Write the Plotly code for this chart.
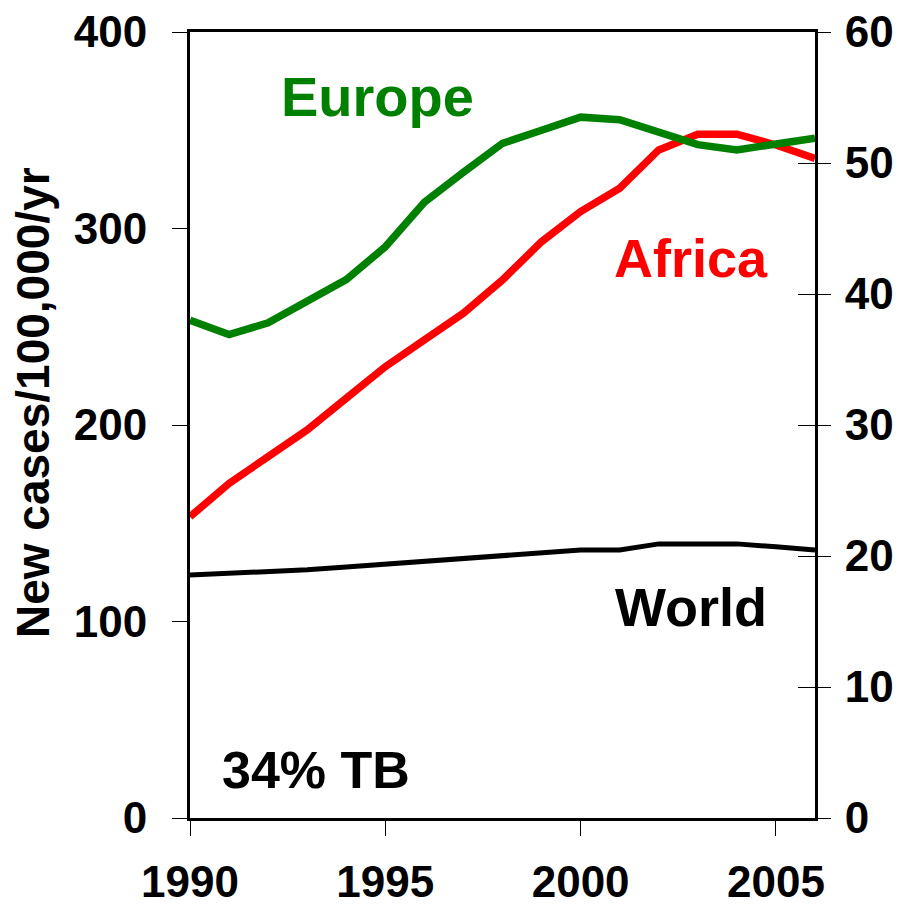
import plotly.graph_objects as go

years = list(range(1990, 2007))
africa = [153.3, 170.3, 183.9, 197.5, 213.6, 229.7, 243.3, 256.9, 273.8, 293.3,
          308.6, 320.5, 340.0, 348.0, 348.0, 342.5, 335.7]
world = [123.7, 124.6, 124.9, 126.3, 127.7, 129.1, 130.5, 132.0, 133.4, 134.9,
         136.4, 136.4, 139.5, 139.5, 139.5, 138.0, 136.4]
europe = [38.0, 36.9, 37.8, 39.4, 41.1, 43.6, 47.0, 49.3, 51.5, 52.5,
          53.5, 53.3, 52.4, 51.4, 51.0, 51.4, 51.9]

x_ticks = [1990, 1995, 2000, 2005]
left_ticks = [0, 100, 200, 300, 400]
right_ticks = [0, 10, 20, 30, 40, 50, 60]

FONT = "Liberation Sans, Arial, sans-serif"

fig = go.Figure()
fig.add_trace(go.Scatter(x=years, y=world, mode="lines", name="World",
                         line=dict(color="black", width=5), yaxis="y"))
fig.add_trace(go.Scatter(x=years, y=africa, mode="lines", name="Africa",
                         line=dict(color="#FF0000", width=7.5), yaxis="y"))
fig.add_trace(go.Scatter(x=years, y=europe, mode="lines", name="Europe",
                         line=dict(color="#008000", width=7.5), yaxis="y2"))
# helper trace so the crossing tick axis is drawn
fig.add_trace(go.Scatter(x=[years[0]], y=[europe[0]], mode="lines", yaxis="y3",
                         showlegend=False, hoverinfo="skip",
                         line=dict(color="rgba(0,0,0,0)")))

tickfont = dict(family=FONT, size=44, color="black", weight="bold")

fig.update_layout(
    width=897, height=897, autosize=False,
    margin=dict(l=182, r=90, t=24, b=87),
    paper_bgcolor="white", plot_bgcolor="white",
    showlegend=False,
    xaxis=dict(range=[1990, 2006], tickvals=x_ticks, ticks="outside", ticklen=15,
               tickwidth=1, tickcolor="black", showline=True, linewidth=3,
               linecolor="black", mirror=True, showgrid=False, zeroline=False,
               tickfont=tickfont, ticklabelstandoff=8, automargin=False,
               ticklabeloverflow="allow"),
    yaxis=dict(range=[0, 400], tickvals=left_ticks, ticks="outside", ticklen=15,
               tickwidth=1, tickcolor="black", showline=True, linewidth=3,
               linecolor="black", showgrid=False, zeroline=False,
               tickfont=tickfont, ticklabelstandoff=16, automargin=False,
               ticklabeloverflow="allow"),
    yaxis2=dict(range=[0, 60], tickvals=right_ticks, overlaying="y", side="right",
                ticks="outside", ticklen=13, tickwidth=1, tickcolor="black",
                showline=True, linewidth=3, linecolor="black", showgrid=False,
                zeroline=False, tickfont=tickfont, ticklabelstandoff=5,
                automargin=False, ticklabeloverflow="allow"),
    yaxis3=dict(range=[0, 60], tickvals=right_ticks, overlaying="y", side="right",
                ticks="inside", ticklen=17, tickwidth=1, tickcolor="black",
                showline=False, showgrid=False, zeroline=False,
                showticklabels=False, automargin=False),
)

lab = dict(family=FONT, size=54, weight="bold")
fig.add_annotation(x=1994.81, y=367.4, xref="x", yref="y", text="Europe",
                   showarrow=False, font=dict(lab, size=56, color="#008000"))
fig.add_annotation(x=2002.83, y=285.0, xref="x", yref="y", text="Africa",
                   showarrow=False, font=dict(lab, color="#FF0000"))
fig.add_annotation(x=2002.83, y=107.4, xref="x", yref="y", text="World",
                   showarrow=False, font=dict(lab, color="black"))
fig.add_annotation(x=1993.23, y=24.4, xref="x", yref="y", text="34% TB",
                   showarrow=False, font=dict(lab, size=52, color="black"))
fig.add_annotation(x=-0.2512, y=0.528, xref="paper", yref="paper",
                   xanchor="center", yanchor="middle",
                   text="New cases/100,000/yr", textangle=-90, showarrow=False,
                   font=dict(family=FONT, size=46, weight="bold", color="black"))

fig.write_html("out.html")
